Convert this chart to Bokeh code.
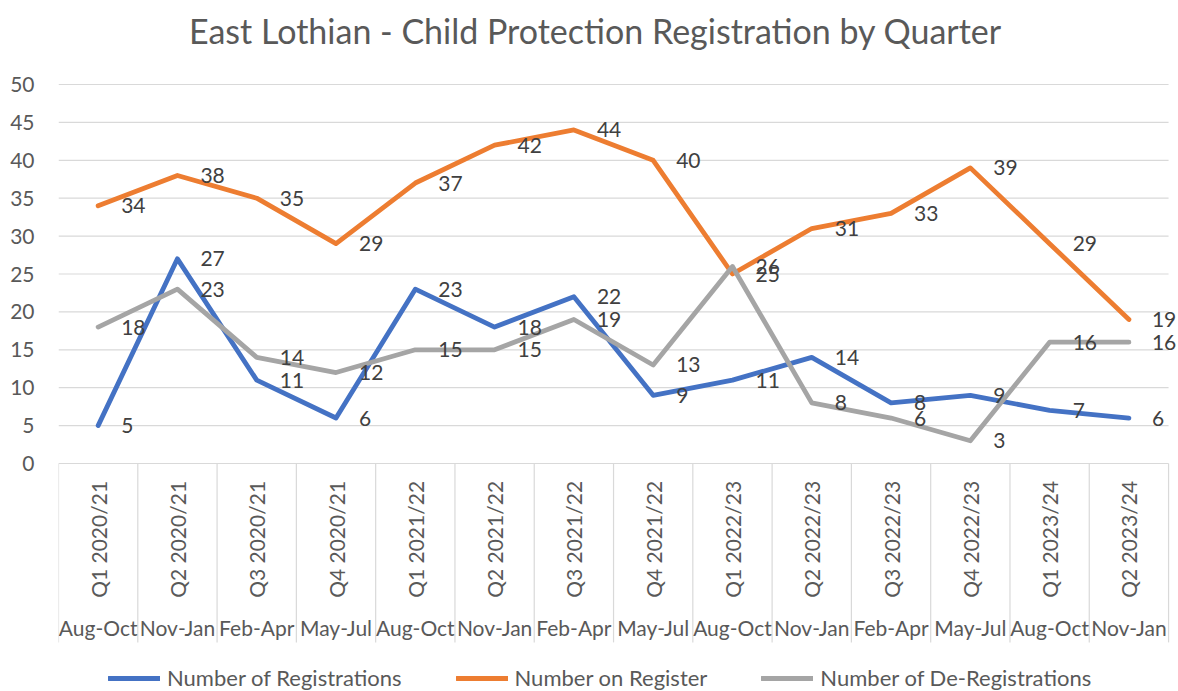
import numpy as np
from bokeh.plotting import figure
from bokeh.models import (Range1d, FixedTicker, Legend, LegendItem)
from bokeh.core.properties import value
from bokeh.embed import file_html
from bokeh.resources import INLINE

title_text = "East Lothian - Child Protection Registration by Quarter"
quarters = ["Q1 2020/21", "Q2 2020/21", "Q3 2020/21", "Q4 2020/21",
            "Q1 2021/22", "Q2 2021/22", "Q3 2021/22", "Q4 2021/22",
            "Q1 2022/23", "Q2 2022/23", "Q3 2022/23", "Q4 2022/23",
            "Q1 2023/24", "Q2 2023/24"]
months = ["Aug-Oct", "Nov-Jan", "Feb-Apr", "May-Jul",
          "Aug-Oct", "Nov-Jan", "Feb-Apr", "May-Jul",
          "Aug-Oct", "Nov-Jan", "Feb-Apr", "May-Jul",
          "Aug-Oct", "Nov-Jan"]
registrations = [5, 27, 11, 6, 23, 18, 22, 9, 11, 14, 8, 9, 7, 6]
on_register = [34, 38, 35, 29, 37, 42, 44, 40, 25, 31, 33, 39, 29, 19]
de_registrations = [18, 23, 14, 12, 15, 15, 19, 13, 26, 8, 6, 3, 16, 16]
series_names = ["Number of Registrations", "Number on Register", "Number of De-Registrations"]
y_ticks = list(range(0, 51, 5))

FONT = "Lato"
TXT = "#595959"
LBL = "#404040"
GRID = "#d9d9d9"
colors = ["#4472C4", "#ED7D31", "#A5A5A5"]

W, H = 1178, 691
LEFT = 58
n = len(quarters)
xs = np.arange(n) + 0.5
PX_PER_X = 79.29
PX_PER_Y = 7.58
ZERO_PX = 463  # pixel row of value 0, from the top

p = figure(width=W, height=H, output_backend="svg", toolbar_location=None,
           x_range=Range1d(0, (W - LEFT) / PX_PER_X),
           y_range=Range1d(-(H - ZERO_PX) / PX_PER_Y, ZERO_PX / PX_PER_Y),
           min_border_left=LEFT, min_border_right=0, min_border_top=0, min_border_bottom=0,
           outline_line_color=None)

p.xaxis.visible = False
p.xgrid.visible = False
p.ygrid.visible = False
p.yaxis.ticker = FixedTicker(ticks=y_ticks)
p.yaxis.axis_line_color = None
p.yaxis.major_tick_line_color = None
p.yaxis.minor_tick_line_color = None
p.yaxis.major_label_standoff = 18
p.yaxis.major_label_text_font = FONT
p.yaxis.major_label_text_font_size = "21px"
p.yaxis.major_label_text_color = TXT

# title
p.text(x=[(595 - LEFT) / PX_PER_X], y=[(ZERO_PX - 30) / PX_PER_Y], text=[title_text],
       text_align="center", text_baseline="middle",
       text_font=value(FONT), text_font_size="34px", text_color=TXT)

# horizontal gridlines, limited to the category span
p.segment(x0=np.zeros(len(y_ticks)), y0=y_ticks, x1=np.full(len(y_ticks), n), y1=y_ticks,
          line_color=GRID, line_width=1.2)

# category separators
bounds = np.arange(n + 1)
p.segment(x0=bounds, y0=np.zeros(n + 1), x1=bounds, y1=np.full(n + 1, -23.6),
          line_color=GRID, line_width=1.2)

# category labels
p.text(x=xs, y=np.full(n, -2.3), text=quarters, angle=np.pi / 2,
       text_align="right", text_baseline="middle",
       text_font=value(FONT), text_font_size="21px", text_color=TXT)
p.text(x=xs, y=np.full(n, -21.7), text=months,
       text_align="center", text_baseline="middle",
       text_font=value(FONT), text_font_size="21px", text_color=TXT)

renderers = []
for vals, col in zip([registrations, on_register, de_registrations], colors):
    r = p.line(xs, vals, line_color=col, line_width=4.8, line_join="round", line_cap="round")
    renderers.append(r)
for vals in [registrations, on_register, de_registrations]:
    p.text(x=xs, y=vals, text=[str(v) for v in vals], x_offset=23,
           text_align="left", text_baseline="middle",
           text_font=value(FONT), text_font_size="21px", text_color=LBL)

legend = Legend(items=[LegendItem(label=nm, renderers=[r]) for nm, r in zip(series_names, renderers)],
                orientation="horizontal", location=(50, 0),
                label_text_font=FONT, label_text_font_size="22px", label_text_color=TXT,
                glyph_width=52, glyph_height=22, label_standoff=7, spacing=54,
                padding=0, margin=0, background_fill_alpha=0, border_line_color=None)
p.add_layout(legend)

open("out.html", "w").write(file_html(p, INLINE))
